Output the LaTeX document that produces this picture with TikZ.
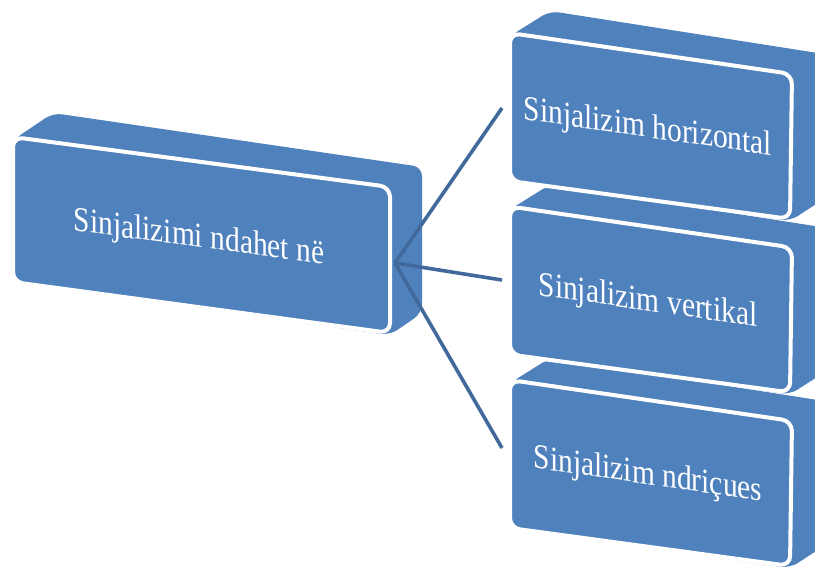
\documentclass[tikz,border=0pt]{standalone}
\usepackage{fontspec}
\setmainfont{Liberation Serif}
\definecolor{boxblue}{HTML}{4F81BD}
\definecolor{linkblue}{HTML}{41699B}
\begin{document}
\begin{tikzpicture}[x=1pt,y=-1pt,
  backface/.style={fill=boxblue, rounded corners=9pt},
  frontface/.style={fill=boxblue, draw=white, line width=4pt, rounded corners=10pt},
  txt/.style={text=white, font=\fontsize{29.5}{34}\selectfont, inner sep=0pt, transform shape},
  link/.style={draw=linkblue, line width=3.6pt}
]
\useasboundingbox (0,0) rectangle (815,567);
\clip (0,0) rectangle (815,567);

% main box
\path[backface] (13,140) -- (53,113) -- (422,167) -- (422,313) -- (390,335) -- (13,282) -- cycle;
\path[frontface] (13,137) -- (390,187) -- (390,333) -- (13,282) -- cycle;
\begin{scope}[shift={(199,239)}, yslant=-0.133, yscale=1.18]
  \node[txt] (main) at (0,0) {Sinjalizimi ndahet në};
\end{scope}

% connectors
\coordinate (hub) at (395,263);
\coordinate (e1) at (502,108);
\coordinate (e2) at (502,280);
\coordinate (e3) at (502,448);
\draw[link] (hub) -- (e1);
\draw[link] (hub) -- (e2);
\draw[link] (hub) -- (e3);

% child boxes (bottom first)
\foreach \T/\name/\label in {380/c3/{Sinjalizim ndriçues}, 206.5/c2/{Sinjalizim vertikal}, 33/c1/{Sinjalizim horizontal}}{
  \path[backface] (510,\T+3) -- (550,\T-22) -- (824,\T+21) -- (824,\T+166) -- (790,\T+188) -- (510,\T+148) -- cycle;
  \path[frontface] (510,\T) -- (792,\T+41) -- (790,\T+186) -- (510,\T+148) -- cycle;
  \begin{scope}[shift={(648,\T+96)}, yslant=-0.145, yscale=1.18]
    \node[txt] (\name) at (0,0) {\label};
  \end{scope}
}
\end{tikzpicture}
\end{document}
